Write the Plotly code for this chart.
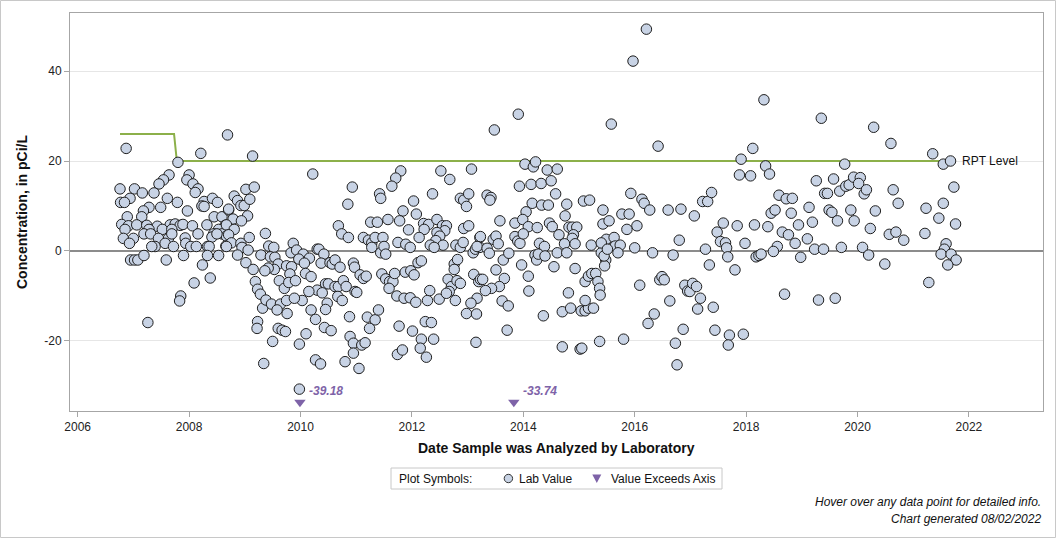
import plotly.graph_objects as go

# ---------------- data (decimal years, pCi/L) ----------------
lab_dates = [
    # 2006.7 - 2008.7
    2006.87, 2008.69, 2008.21, 2007.80, 2007.64, 2008.00, 2007.54, 2007.46, 2007.96, 2008.07,
    2008.16, 2008.11, 2006.76, 2007.02, 2007.16, 2007.37, 2006.94, 2006.77, 2006.84, 2007.61,
    2007.79, 2008.27, 2008.42, 2008.51, 2008.23, 2008.27, 2007.28, 2007.49, 2007.18, 2007.97,
    2007.15, 2006.89, 2008.45, 2008.59, 2008.71,
    2006.79, 2006.91, 2007.06, 2007.24, 2007.43, 2007.66, 2007.75, 2007.84, 2007.89, 2008.06,
    2008.32, 2008.65,
    2006.85, 2007.28, 2007.52, 2007.69, 2008.53, 2008.71,
    2007.19, 2007.31, 2008.16, 2008.44, 2008.59, 2008.67,
    2006.82, 2007.00, 2007.45, 2007.63, 2007.69, 2007.93, 2008.41, 2008.50,
    2006.93, 2007.39, 2007.57, 2007.94, 2007.33, 2007.72, 2008.03, 2008.13, 2008.33, 2008.36,
    2008.66,
    2006.95, 2007.02, 2007.08, 2007.19, 2007.59, 2007.90, 2008.33, 2008.53, 2008.24, 2008.09,
    2008.38, 2007.85, 2007.83, 2007.26,
    # 2008.7 - 2011
    2009.14, 2010.22, 2010.93, 2010.85, 2010.68, 2010.74, 2010.86, 2009.02, 2009.17,
    2008.81, 2008.87, 2008.93, 2008.99, 2009.09, 2008.71, 2009.05, 2008.79, 2008.94,
    2008.67, 2008.81, 2008.71, 2008.76, 2008.67, 2008.93, 2008.95, 2009.06, 2009.08, 2008.87,
    2009.02, 2009.15, 2009.19, 2009.23, 2009.28, 2009.32, 2009.38, 2009.48, 2009.23, 2009.22,
    2009.34, 2009.50, 2009.37,
    2009.29, 2009.43, 2009.52, 2009.46, 2009.54, 2009.60, 2009.53, 2009.42, 2009.36,
    2009.62, 2009.71, 2009.64, 2009.75, 2009.76, 2009.58, 2009.60, 2009.67, 2009.73,
    2009.87, 2009.83, 2009.93, 2010.05, 2009.97, 2010.16, 2010.07, 2009.75, 2009.84, 2009.81,
    2009.79, 2009.91, 2010.09, 2010.19, 2010.03, 2009.89,
    2010.30, 2010.33, 2010.42, 2010.37, 2010.53, 2010.57, 2010.62, 2010.71, 2010.45, 2010.50,
    2010.30, 2010.39, 2010.15, 2010.62, 2010.68, 2010.77, 2010.82, 2010.67, 2010.75, 2010.48,
    2010.45, 2010.19, 2010.27, 2010.43, 2010.55, 2010.10, 2009.98, 2010.27, 2010.36, 2010.80,
    2010.88, 2010.89, 2010.95, 2010.95, 2010.95, 2010.98, 2009.98,
    # 2011 - 2013.2
    2011.80, 2011.71, 2011.64, 2012.52, 2012.68, 2013.07, 2011.42, 2011.44, 2012.37,
    2012.87, 2012.93, 2013.02, 2012.98, 2012.03, 2011.84, 2012.08,
    2011.26, 2011.38, 2011.57, 2011.78,
    2011.94, 2012.21, 2012.30, 2012.22, 2012.13, 2012.45, 2012.55, 2012.62, 2012.59, 2012.45,
    2012.50, 2012.43, 2012.56, 2012.93, 2013.02,
    2011.13, 2011.22, 2011.28, 2011.34, 2011.48, 2011.28, 2011.44, 2011.50, 2011.53,
    2011.75, 2011.89, 2011.97, 2012.33, 2012.40,
    2012.79, 2012.87, 2012.92, 2013.10, 2013.14, 2013.22, 2013.22,
    2010.97, 2011.07, 2011.13, 2011.18, 2011.01,
    2011.46, 2011.53, 2011.60, 2011.66, 2011.69, 2011.59,
    2011.88, 2011.98, 2012.04, 2012.11, 2012.17,
    2011.73, 2011.86, 2011.97, 2012.07, 2012.28, 2012.32, 2012.49,
    2012.65, 2012.71, 2012.67, 2012.62, 2012.81, 2012.87, 2012.78,
    2012.76, 2012.82, 2012.76,
    2013.11, 2013.20, 2013.17, 2013.06, 2012.98, 2013.16,
    2011.20, 2011.34, 2011.40, 2011.24, 2011.10, 2011.16, 2011.05,
    2011.77, 2012.01, 2012.24, 2012.35, 2012.17, 2012.39, 2012.15, 2012.26,
    2011.74, 2011.83, 2013.15,
    # 2013.2 - 2015.5
    2013.91, 2013.48, 2014.03, 2014.18, 2014.22, 2014.43, 2014.61,
    2013.93, 2014.14, 2014.32, 2014.50, 2014.58, 2013.35, 2013.42, 2013.40,
    2014.16, 2014.33, 2014.45, 2014.05, 2014.78, 2014.75, 2015.08, 2015.19, 2015.43, 2015.43,
    2013.58, 2013.85, 2013.99, 2014.09, 2014.25, 2014.47, 2014.52,
    2013.23, 2013.46, 2013.51, 2013.55, 2013.85, 2013.90, 2013.94, 2014.00, 2014.29, 2014.38,
    2014.64, 2014.82, 2014.88, 2014.96, 2014.90, 2014.88, 2014.74, 2014.93, 2015.22,
    2013.17, 2013.35, 2013.39, 2013.64, 2013.74, 2014.21, 2014.24, 2014.27, 2014.39, 2014.55,
    2014.61, 2014.78, 2015.40, 2015.48, 2015.46,
    2013.97, 2014.09, 2014.10, 2013.51, 2013.23, 2013.27, 2013.66, 2013.57, 2013.43, 2013.32,
    2013.62, 2013.73, 2013.71, 2014.36, 2014.70, 2014.85, 2015.04, 2015.11, 2015.17, 2015.26,
    2015.11, 2014.81, 2014.93, 2015.11, 2015.17, 2015.23, 2015.30, 2015.34, 2015.37, 2015.38,
    2014.70, 2015.02, 2015.05, 2015.37,
    # 2015.5 - 2017.7
    2016.21, 2015.97, 2015.58, 2016.42, 2015.93, 2016.13, 2016.17, 2016.27,
    2016.60, 2016.83, 2017.07, 2017.22, 2017.31, 2017.38, 2015.54,
    2015.77, 2015.90, 2016.04, 2015.86, 2015.49, 2015.63, 2015.65, 2015.74, 2016.80,
    2017.59, 2017.48, 2017.54, 2017.63,
    2015.40, 2015.45, 2015.51, 2015.70, 2016.00, 2016.32, 2016.69, 2017.27, 2017.34, 2017.65,
    2016.09, 2016.45, 2016.49, 2016.53, 2016.63, 2016.35, 2016.24,
    2016.90, 2016.95, 2016.99, 2017.04, 2017.11, 2017.18, 2017.13, 2017.41,
    2016.87, 2017.44, 2015.80, 2016.73, 2016.76, 2017.70, 2017.68,
    # 2017.7 - 2020
    2018.32, 2019.35, 2018.12, 2017.91, 2018.35, 2018.42, 2017.88, 2018.08, 2019.77,
    2019.26, 2019.57, 2019.41, 2019.46, 2019.68, 2019.79, 2019.85, 2019.93,
    2018.59, 2018.72, 2018.83, 2019.13, 2019.49, 2019.54, 2019.88,
    2018.45, 2018.52, 2018.81, 2019.19, 2019.64, 2019.94, 2018.94,
    2017.84, 2018.15, 2018.39,
    2018.65, 2018.76, 2019.10, 2018.88, 2018.56, 2018.49, 2017.98,
    2018.18, 2018.23, 2018.27, 2018.98, 2019.23, 2019.39, 2019.71, 2017.67,
    2017.80, 2018.69, 2019.30, 2019.60, 2017.95,
    # 2020 - 2022
    2020.29, 2020.60, 2021.35, 2021.54, 2021.67, 2021.73, 2020.05, 2020.02,
    2020.12, 2020.16, 2020.64, 2020.73, 2020.32, 2020.23,
    2021.23, 2021.54, 2021.46, 2021.76, 2021.21, 2020.57, 2020.69, 2020.83,
    2020.09, 2020.20, 2020.49,
    2021.59, 2021.56, 2021.50, 2021.68, 2021.77, 2021.62, 2021.28,
]

lab_values = [
    # 2006.7 - 2008.7
    22.8, 25.8, 21.7, 19.7, 16.9, 16.9, 15.8, 14.9, 15.8, 14.9,
    13.8, 13.0, 13.8, 13.8, 12.9, 12.9, 11.7, 10.8, 10.8, 11.7,
    10.8, 11.0, 11.7, 10.8, 10.0, 9.9, 9.7, 9.7, 8.9, 8.9,
    7.6, 7.6, 7.6, 7.6, 9.1,
    5.9, 5.6, 5.8, 5.7, 5.5, 5.8, 6.0, 5.7, 5.9, 5.6,
    5.8, 5.7,
    4.8, 4.8, 4.8, 4.8, 4.8, 5.3,
    3.8, 3.8, 3.8, 3.8, 3.8, 3.3,
    2.8, 2.8, 2.8, 2.8, 3.8, 2.9, 3.1, 3.8,
    1.7, 1.0, 1.7, 1.7, 1.0, 1.0, 1.0, 1.0, 1.0, 1.0,
    1.1,
    -2.0, -2.0, -2.0, -1.0, -2.0, -1.0, -1.0, -1.0, -3.1, -7.1,
    -6.0, -10.0, -11.1, -15.9,
    # 2008.7 - 2011
    21.1, 17.1, 14.2, 10.4, 5.6, 3.8, 3.0, 13.7, 14.2,
    12.2, 11.2, 10.1, 10.1, 11.5, 9.3, 7.8, 7.1, 6.7,
    5.8, 4.8, 3.6, 1.8, 1.0, 1.7, 0.8, 0.2, 3.0, -0.9,
    -2.6, -4.1, -6.8, -8.5, -9.6, -12.7, -10.9, -11.8, -15.7, -17.2,
    -25.0, -20.1, 3.9,
    -0.9, 1.1, 0.8, -1.3, -1.4, -2.9, -4.1, -3.8, -4.4,
    -6.6, -8.3, -11.8, -11.0, -13.9, -13.1, -17.2, -17.6, -17.9,
    1.7, -0.4, 0.2, -0.7, -1.8, -1.6, -2.7, -3.3, -3.5, -5.1,
    -7.0, -6.6, -5.0, -5.7, -11.0, -10.5,
    0.4, 0.4, -0.7, -2.7, -2.6, -2.9, -2.0, -3.6, -7.3, -7.3,
    -8.7, -9.3, -9.0, -7.9, -7.9, -6.6, -7.9, -10.1, -11.0, -11.6,
    -13.0, -13.1, -15.2, -17.0, -17.7, -18.4, -20.7, -24.2, -25.1, -24.6,
    -14.6, -19.0, -20.5, -22.7, -2.7, -9.0, -30.7,
    # 2011 - 2013.2
    17.8, 16.2, 14.4, 17.8, 15.9, 18.2, 12.7, 11.7, 12.7,
    11.7, 11.3, 12.7, 9.9, 11.1, 8.9, 8.2,
    6.4, 6.4, 7.0, 6.7,
    4.7, 6.1, 5.9, 4.8, 3.0, 7.0, 5.6, 5.6, 4.5, 4.1,
    3.3, 2.3, 1.3, 5.0, 5.6,
    3.0, 2.4, 1.8, 3.0, 3.0, 0.8, -0.4, 1.0, -0.7,
    1.9, 1.5, 0.8, 1.3, 0.8,
    1.3, 0.8, 1.9, -0.4, 0.4, 0.8, 3.0,
    -3.6, -5.3, -6.1, -5.6, -9.2,
    -5.1, -6.2, -6.8, -6.8, -5.0, -8.3,
    -4.7, -4.4, -5.3, -2.6, -2.2,
    -10.0, -10.5, -10.4, -11.4, -11.0, -8.8, -10.7,
    -6.3, -7.9, -9.0, -9.4, -6.6, -7.2, -11.0,
    -2.9, -1.9, -4.1,
    -5.2, -6.8, -10.5, -11.6, -13.9, -14.0,
    -14.7, -15.3, -13.1, -17.2, -20.9, -20.4, -26.1,
    -16.7, -17.8, -15.7, -15.9, -19.6, -19.6, -21.6, -23.6,
    -23.0, -22.0, -20.3,
    # 2013.2 - 2015.5
    30.4, 26.9, 19.3, 18.7, 19.8, 18.0, 18.2,
    14.4, 14.8, 15.0, 15.6, 12.7, 12.4, 11.9, 11.3,
    10.6, 10.2, 10.2, 8.7, 10.4, 7.8, 11.1, 11.3, 9.1, 6.0,
    6.7, 6.2, 7.0, 5.4, 5.2, 6.2, 5.4,
    3.2, 2.6, 3.3, 1.6, 3.2, 2.2, 1.7, 3.8, 1.7, 1.0,
    3.6, 5.3, 5.3, 5.3, 3.6, 2.8, 1.6, 1.6, 1.3,
    1.0, 0.6, -0.5, -2.0, -0.5, -0.9, -2.0, -0.7, -1.1, -3.5,
    -0.4, -0.4, -0.4, -2.0, -3.3,
    -3.1, -5.6, -8.9, -4.2, -6.3, -6.3, -6.1, -7.9, -8.3, -8.8,
    -11.1, -12.2, -17.6, -14.4, -13.5, -12.7, -13.3, -13.3, -12.7, -12.7,
    -11.0, -9.3, -3.9, -6.8, -5.6, -5.0, -5.0, -6.8, -8.3, -9.8,
    -21.3, -21.8, -21.6, -20.1,
    # 2015.5 - 2017.7
    49.3, 42.2, 28.2, 23.3, 12.8, 11.5, 10.6, 9.1,
    9.1, 9.3, 7.8, 11.0, 11.0, 13.0, 6.7,
    8.2, 8.2, 5.6, 4.8, 2.6, 3.0, 1.1, 1.3, 2.4,
    6.2, 4.2, 2.1, 1.8,
    1.8, -1.1, 0.4, -0.4, 0.7, -0.4, -0.9, 0.4, -3.1, 0.7,
    -7.6, -6.4, -5.7, -6.4, -11.1, -14.0, -16.1,
    -7.6, -8.9, -9.0, -7.2, -7.9, -10.5, -12.9, -12.5,
    -17.4, -17.6, -19.6, -20.5, -25.3, -18.7, -20.9,
    # 2017.7 - 2020
    33.6, 29.5, 22.8, 20.4, 18.9, 17.1, 16.9, 16.7, 19.3,
    15.6, 16.0, 12.8, 12.8, 13.3, 14.4, 14.7, 16.4,
    12.4, 11.6, 11.7, 9.7, 9.1, 8.6, 9.1,
    8.4, 9.1, 8.4, 6.4, 6.7, 6.7, 5.8,
    5.6, 5.8, 5.4,
    4.2, 3.6, 2.7, 1.7, 1.0, -0.1, 1.7,
    -1.3, -1.0, -0.7, -1.4, 0.4, 0.4, 0.8, -1.3,
    -4.2, -9.6, -10.9, -10.5, -18.5,
    # 2020 - 2022
    27.5, 23.9, 21.6, 19.3, 20.0, 14.2, 16.3, 15.0,
    12.7, 13.6, 13.6, 10.6, 8.9, 5.0,
    9.5, 10.6, 7.3, 6.0, 3.9, 3.7, 4.2, 2.4,
    0.8, -0.9, -2.9,
    1.6, 0.4, -0.7, -0.7, -2.0, -3.1, -7.0,
]

exceed_dates = [2009.99, 2013.83]
exceed_values = [-39.18, -33.74]

rpt_dates = [2006.76, 2007.73, 2007.78, 2021.62]
rpt_levels = [26, 26, 20, 20]

x_ticks = [2006, 2008, 2010, 2012, 2014, 2016, 2018, 2020, 2022]
y_ticks = [-20, 0, 20, 40]
y_tick_labels = ["-20", "0", "20", "40"]
x_range = [2005.862, 2023.33]
y_range = [-35.56, 52.89]

# ---------------- styling ----------------
FONT = "Liberation Sans, Arial, sans-serif"
W, H = 1056, 538
L, R, T, B = 70, 1043, 13, 411
FILL = "#c8d3e5"
EDGE = "#1e1e1e"
PURPLE = "#7e63a8"
GREEN = "#8cb04a"
EXCEED_MARK_Y = -33.6  # where the off-axis marker sits (display floor)


def px(x):
    return (x - L) / (R - L)


def py(y):
    return (B - y) / (B - T)


fig = go.Figure()

fig.add_trace(go.Scatter(
    x=rpt_dates, y=rpt_levels, mode="lines",
    line=dict(color=GREEN, width=2), hoverinfo="skip", showlegend=False))

fig.add_trace(go.Scatter(
    x=lab_dates, y=lab_values, mode="markers",
    marker=dict(symbol="circle", size=10.5, color=FILL, line=dict(color=EDGE, width=1)),
    showlegend=False, name="Lab Value"))

fig.add_trace(go.Scatter(
    x=exceed_dates, y=[EXCEED_MARK_Y] * len(exceed_dates), mode="markers",
    marker=dict(symbol="triangle-down", size=10, color=PURPLE, line=dict(width=0)),
    customdata=exceed_values, showlegend=False, name="Value Exceeds Axis"))

annotations = []
for d, v in zip(exceed_dates, exceed_values):
    annotations.append(dict(
        x=d, y=EXCEED_MARK_Y, xref="x", yref="y", text=f"<b><i>{v:.2f}</i></b>",
        showarrow=False, xanchor="left", yanchor="middle", xshift=7, yshift=11,
        font=dict(family=FONT, size=12, color=PURPLE)))

annotations.append(dict(
    x=rpt_dates[-1], y=rpt_levels[-1], xref="x", yref="y", text="RPT Level",
    showarrow=False, xanchor="left", yanchor="middle", xshift=12,
    font=dict(family=FONT, size=12, color="#111")))

# axis titles
annotations.append(dict(
    x=px((L + R) / 2), y=py(448), xref="paper", yref="paper",
    text="<b>Date Sample was Analyzed by Laboratory</b>", showarrow=False,
    xanchor="center", yanchor="middle", font=dict(family=FONT, size=14, color="#111")))
annotations.append(dict(
    x=px(22), y=py((T + B) / 2), xref="paper", yref="paper",
    text="<b>Concentration, in pCi/L</b>", showarrow=False, textangle=-90,
    xanchor="center", yanchor="middle", font=dict(family=FONT, size=14, color="#111")))

# legend box contents
annotations += [
    dict(x=px(397), y=py(478.5), xref="paper", yref="paper", text="Plot Symbols:",
         showarrow=False, xanchor="left", yanchor="middle",
         font=dict(family=FONT, size=12, color="#111")),
    dict(x=px(517), y=py(478.5), xref="paper", yref="paper", text="Lab Value",
         showarrow=False, xanchor="left", yanchor="middle",
         font=dict(family=FONT, size=12, color="#111")),
    dict(x=px(609), y=py(478.5), xref="paper", yref="paper", text="Value Exceeds Axis",
         showarrow=False, xanchor="left", yanchor="middle",
         font=dict(family=FONT, size=12, color="#111")),
    dict(x=px(1043), y=py(502), xref="paper", yref="paper",
         text="<i>Hover over any data point for detailed info.</i>",
         showarrow=False, xanchor="right", yanchor="middle",
         font=dict(family=FONT, size=12, color="#111")),
    dict(x=px(1043), y=py(519), xref="paper", yref="paper",
         text="<i>Chart generated 08/02/2022</i>",
         showarrow=False, xanchor="right", yanchor="middle",
         font=dict(family=FONT, size=12, color="#111")),
]

shapes = [
    # outer border of the whole chart image
    dict(type="rect", xref="paper", yref="paper", x0=px(0.5), x1=px(W - 0.5),
         y0=py(0.5), y1=py(H - 0.5), line=dict(color="#c8c8c8", width=1)),
    # legend box
    dict(type="rect", xref="paper", yref="paper", x0=px(391), x1=px(722),
         y0=py(468), y1=py(489), line=dict(color="#c8c8c8", width=1)),
    dict(type="circle", xref="paper", yref="paper", x0=px(504.2), x1=px(512.6),
         y0=py(474.3), y1=py(482.7), fillcolor=FILL, line=dict(color="#333", width=1)),
    dict(type="path", xref="paper", yref="paper",
         path=f"M {px(592.3)},{py(474.5)} L {px(601.3)},{py(474.5)} L {px(596.8)},{py(483)} Z",
         fillcolor=PURPLE, line=dict(width=0)),
]

fig.update_layout(
    width=W, height=H,
    margin=dict(l=L, r=W - R, t=T, b=H - B, pad=0),
    paper_bgcolor="white", plot_bgcolor="white",
    font=dict(family=FONT, size=12, color="#222"),
    showlegend=False, hovermode="closest",
    annotations=annotations, shapes=shapes,
    xaxis=dict(range=x_range, tickvals=x_ticks, ticktext=[str(t) for t in x_ticks],
               showgrid=False, zeroline=False, showline=True, linecolor="#a6a6a6",
               linewidth=1, mirror=True, ticks="outside", ticklen=5, tickcolor="#a6a6a6",
               tickfont=dict(family=FONT, size=12, color="#222")),
    yaxis=dict(range=y_range, tickvals=y_ticks, ticktext=y_tick_labels,
               showgrid=True, gridcolor="#e6e6e6",
               gridwidth=1, zeroline=True, zerolinecolor="#8c8c8c", zerolinewidth=2,
               showline=True, linecolor="#a6a6a6", linewidth=1, mirror=True,
               ticks="outside", ticklen=5, tickcolor="#a6a6a6",
               tickfont=dict(family=FONT, size=12, color="#222")),
)

fig.write_html(
    "out.html",
    config={"displayModeBar": False},
    post_script="document.body.style.margin='0';document.body.style.padding='0';",
)
